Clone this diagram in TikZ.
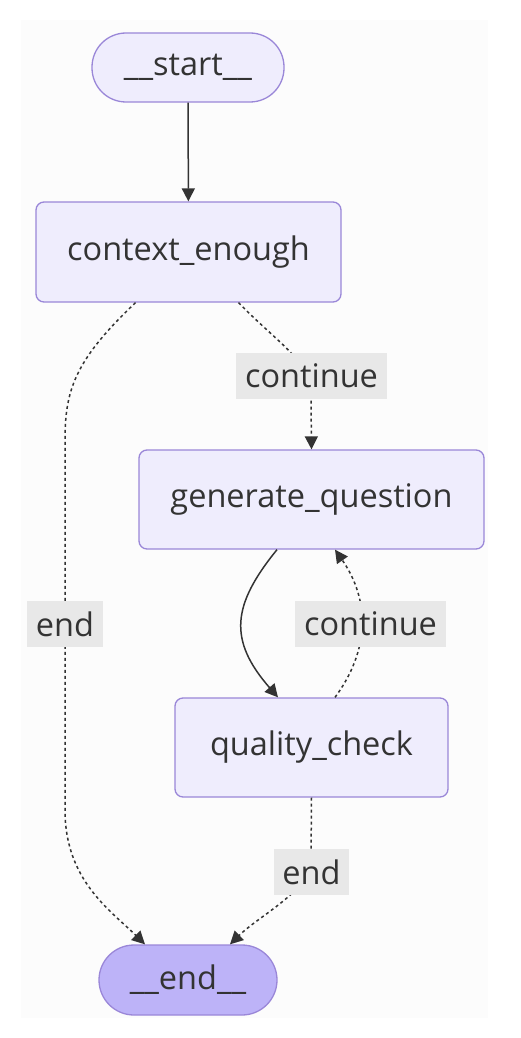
\documentclass[tikz,border=0pt]{standalone}
\usepackage{fontspec}
\setmainfont{Open Sans}
\usetikzlibrary{arrows.meta}
\definecolor{nodefill}{HTML}{EFEDFD}
\definecolor{nodeline}{HTML}{9A87D8}
\definecolor{endfill}{HTML}{BDB3F8}
\definecolor{txt}{HTML}{333333}
\definecolor{lblfill}{HTML}{E8E8E8}
\definecolor{bgc}{HTML}{FCFCFC}
\tikzset{
  box/.style={draw=nodeline, fill=nodefill, line width=1.3pt, rounded corners=8pt,
    text=txt, font=\fontsize{32.5}{38}\selectfont, inner sep=0pt, minimum height=99pt},
  pill/.style={box, minimum height=69pt, rounded corners=34pt},
  lbl/.style={fill=lblfill, text=txt, font=\fontsize{32.5}{38}\selectfont, inner sep=0pt,
    minimum height=46pt},
  solidedge/.style={draw=txt, line width=1.5pt, -{Triangle[length=13pt,width=13pt]}},
  dashedge/.style={solidedge, dash pattern=on 3pt off 3pt}
}
\begin{document}
\begin{tikzpicture}[x=1pt,y=-1pt]
\useasboundingbox (0,0) rectangle (520,1038);
\fill[bgc] (21,20) rectangle (488,1018);
% nodes
\node[pill, minimum width=192pt] (start) at (188,67.5) {\_\_start\_\_};
\node[box, minimum width=305pt, minimum height=100pt] (ctx) at (188.5,252) {context\_enough};
\node[box, minimum width=345pt] (gen) at (311.5,499.5) {generate\_question};
\node[box, minimum width=273pt] (qc) at (311.5,747.5) {quality\_check};
\node[pill, fill=endfill, minimum width=178pt, minimum height=70pt, rounded corners=35pt] (end) at (188,980) {\_\_end\_\_};
% edges
\draw[solidedge] (start) -- (ctx);
\draw[dashedge] ([xshift=-53pt]ctx.south) .. controls (75,360) and (65,390) .. (65,440)
  -- (65,810) .. controls (65,880) and (110,910) .. ([xshift=-43pt]end.north);
\draw[dashedge] ([xshift=50pt]ctx.south) .. controls (285,350) and (311,360) .. (311,400) -- (gen.north);
\draw[solidedge] ([xshift=-34.5pt]gen.south) .. controls (232,605) and (228,640) .. ([xshift=-33.5pt]qc.north);
\draw[dashedge] ([xshift=23.5pt]qc.north) .. controls (370,650) and (370,600) .. ([xshift=23.5pt]gen.south);
\draw[dashedge] (qc.south) -- (311,860) .. controls (311,890) and (260,915) .. ([xshift=42pt]end.north);
% labels
\node[lbl, minimum width=151pt] (l1) at (311.5,376) {continue};
\node[lbl, minimum width=76pt] (l2) at (65,624) {end};
\node[lbl, minimum width=151pt] (l3) at (370.5,624) {continue};
\node[lbl, minimum width=75pt] (l4) at (311.5,872) {end};
\end{tikzpicture}
\end{document}
